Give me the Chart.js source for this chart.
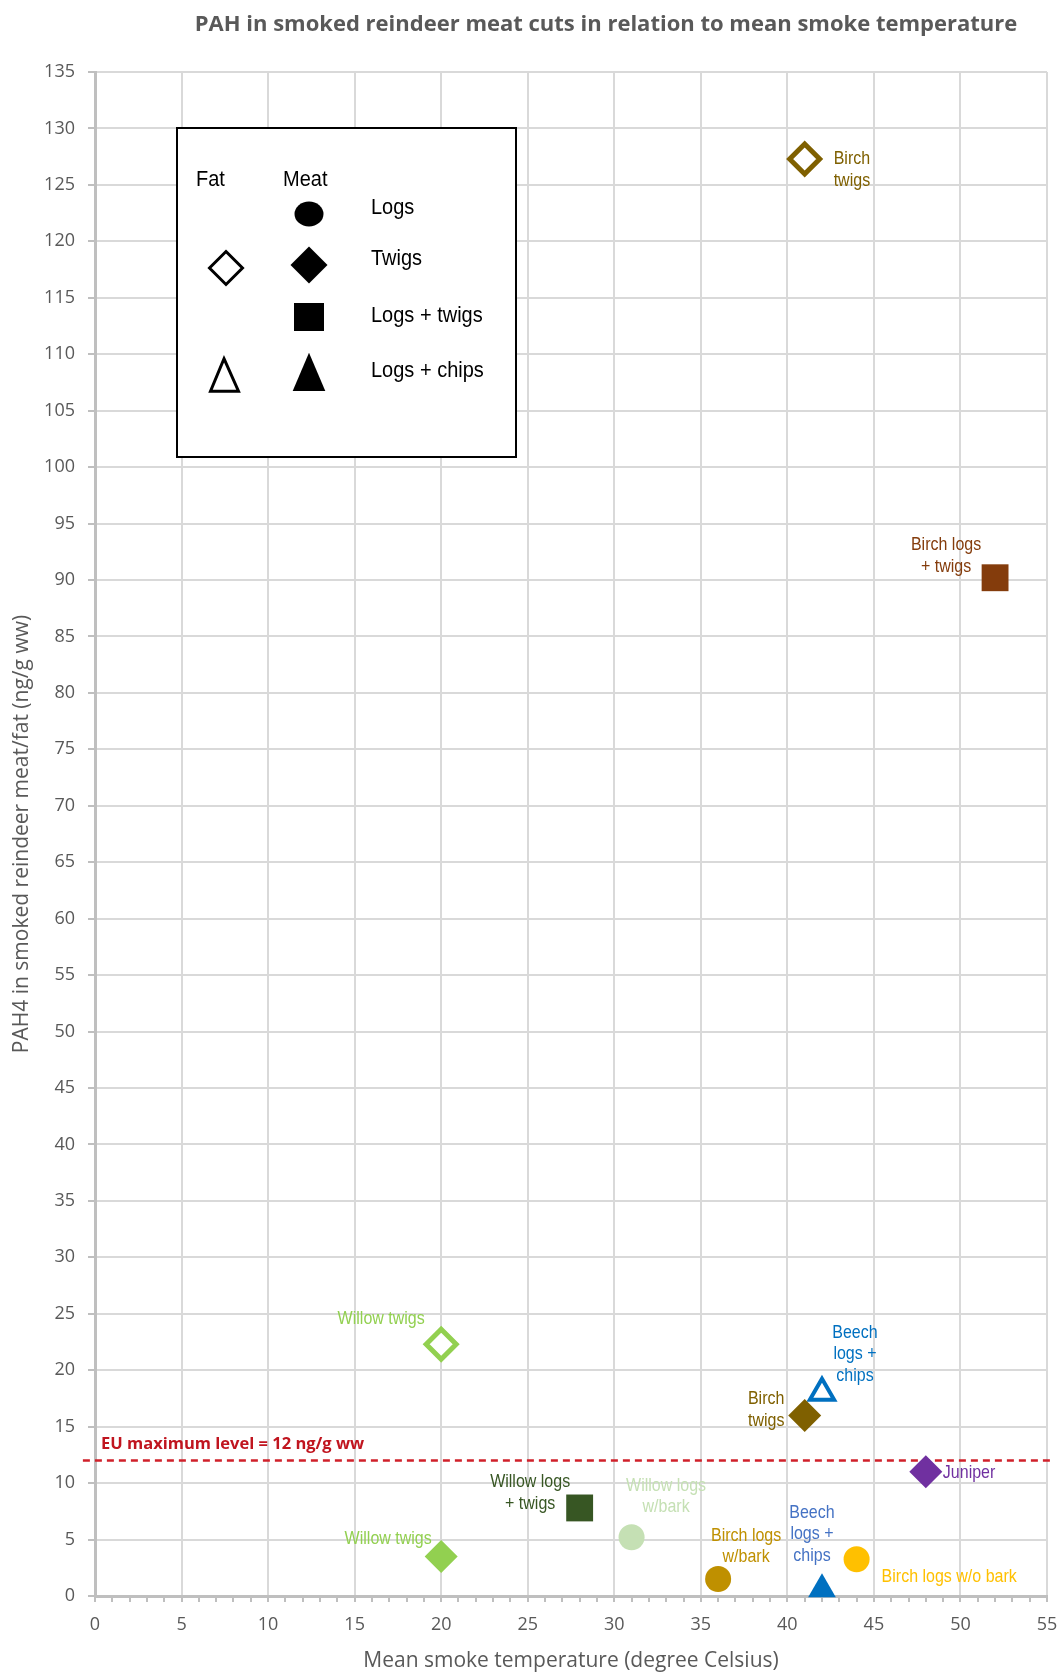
<!DOCTYPE html>
<html>
<head>
<meta charset="utf-8">
<title>PAH in smoked reindeer meat cuts</title>
<script src="https://cdn.jsdelivr.net/npm/chart.js@4.4.1/dist/chart.umd.min.js"></script>
<style>
  html, body { margin: 0; padding: 0; background: #fff; }
  #chart { display: block; }
</style>
</head>
<body>
<canvas id="chart" width="1061" height="1674"></canvas>
<script>
// =========================
// DATA
// =========================
const samples = ['Birch twigs', 'Birch logs + twigs', 'Willow twigs', 'Beech logs + chips', 'Birch twigs', 'Juniper',
    'Willow logs + twigs', 'Willow logs w/bark', 'Willow twigs', 'Birch logs w/bark', 'Beech logs + chips', 'Birch logs w/o bark'];
const tissue = ['Fat', 'Meat', 'Fat', 'Fat', 'Meat', 'Meat', 'Meat', 'Meat', 'Meat', 'Meat', 'Meat', 'Meat'];
const fuel = ['Twigs', 'Logs + twigs', 'Twigs', 'Logs + chips', 'Twigs', 'Twigs',
    'Logs + twigs', 'Logs', 'Twigs', 'Logs', 'Logs + chips', 'Logs'];
const smokeTemp = [41, 52, 20, 42, 41, 48, 28, 31, 20, 36, 42, 44];
const pah4 = [127.3, 90.2, 22.3, 18.0, 16.0, 11.0, 7.8, 5.2, 3.5, 1.5, 0.6, 3.25];
const pointLabels = [['Birch', 'twigs'], ['Birch logs', '+ twigs'], ['Willow twigs'], ['Beech', 'logs +', 'chips'],
    ['Birch', 'twigs'], ['Juniper'], ['Willow logs', '+ twigs'], ['Willow logs', 'w/bark'], ['Willow twigs'],
    ['Birch logs', 'w/bark'], ['Beech', 'logs +', 'chips'], ['Birch logs w/o bark']];

const euLimit = 12;
const euLabel = 'EU maximum level = 12 ng/g ww';
const xRange = [0, 55];
const yRange = [0, 135];

const legendTissue = ['Fat', 'Meat'];
const legendFuel = ['Logs', 'Twigs', 'Logs + twigs', 'Logs + chips'];
const legendHasFat = [false, true, false, true];

const chartTitle = 'PAH in smoked reindeer meat cuts in relation to mean smoke temperature';
const xTitle = 'Mean smoke temperature (degree Celsius)';
const yTitle = 'PAH4 in smoked reindeer meat/fat (ng/g ww)';

// =========================
// STYLE
// =========================
const woodColors = {
    'Birch twigs': '#7F6000',
    'Birch logs + twigs': '#843C0C',
    'Willow twigs': '#92D050',
    'Beech logs + chips': '#0070C0',
    'Juniper': '#7030A0',
    'Willow logs + twigs': '#375623',
    'Willow logs w/bark': '#C5E0B4',
    'Birch logs w/bark': '#BF9000',
    'Birch logs w/o bark': '#FFC000',
};

const shapeOf = { 'Logs': 'circle', 'Twigs': 'rectRot', 'Logs + twigs': 'rect', 'Logs + chips': 'triangle' };
const radiusOf = {
    Meat: { circle: 13, rectRot: 16.5, rect: 19, triangle: 16 },
    Fat: { rectRot: 15, triangle: 14 },
};

// label offsets from the marker centre (first line), px
const labelPlacement = [
    { dx: 29, dy: 0, align: 'left' },
    { dx: -49, dy: -32.5, align: 'center' },
    { dx: -60, dy: -25, align: 'center' },
    { dx: 33, dy: -60, align: 'center' },
    { dx: -38.5, dy: -16.5, align: 'center' },
    { dx: 17, dy: 1, align: 'left' },
    { dx: -49.5, dy: -25.5, align: 'center' },
    { dx: 34.5, dy: -51.5, align: 'center' },
    { dx: -53, dy: -17.5, align: 'center' },
    { dx: 28, dy: -43.3, align: 'center' },
    { dx: -10, dy: -76.5, align: 'center', color: '#4472C4' },
    { dx: 25, dy: 18, align: 'left' },
];

const gray = '#595959';
const gridGray = '#d9d9d9';
const axisGray = '#bfbfbf';
const euRed = '#D0202A';

const colorAt = (i) => woodColors[samples[i]];
const shapeAt = (i) => shapeOf[fuel[i]];

// =========================
// PLUGINS
// =========================
function stretchedText(ctx, text, x, y, sy) {
    ctx.save();
    ctx.translate(x, y);
    ctx.scale(1, sy);
    ctx.fillText(text, 0, 0);
    ctx.restore();
}

const pointLabelPlugin = {
    id: 'pointLabels',
    afterDatasetsDraw(chart) {
        const meta = chart.getDatasetMeta(0);
        const ctx = chart.ctx;
        ctx.save();
        ctx.font = '16px "Liberation Sans", Arial, sans-serif';
        ctx.textBaseline = 'middle';
        meta.data.forEach((pt, i) => {
            const place = labelPlacement[i];
            ctx.fillStyle = place.color || colorAt(i);
            ctx.textAlign = place.align;
            pointLabels[i].forEach((line, j) => {
                stretchedText(ctx, line, pt.x + place.dx, pt.y + place.dy + j * 21.7, 1.12);
            });
        });
        ctx.restore();
    },
};

const decorPlugin = {
    id: 'decor',
    afterDraw(chart) {
        const { ctx, chartArea: ca, scales } = chart;
        ctx.save();

        // title
        ctx.fillStyle = gray;
        ctx.font = 'bold 22px "Open Sans", sans-serif';
        ctx.textAlign = 'center';
        ctx.textBaseline = 'middle';
        ctx.fillText(chartTitle, 606, 25);

        // EU limit label
        ctx.fillStyle = '#C0151F';
        ctx.font = 'bold 16.5px "Open Sans", sans-serif';
        ctx.textAlign = 'left';
        ctx.fillText(euLabel, ca.left + 6, scales.y.getPixelForValue(euLimit) - 16);

        // legend box
        const L = ca.left + 82, T = ca.top + 56, W = 339, H = 329;
        ctx.fillStyle = '#fff';
        ctx.fillRect(L, T, W, H);
        ctx.lineWidth = 2;
        ctx.strokeStyle = '#000';
        ctx.strokeRect(L, T, W, H);

        ctx.fillStyle = '#000';
        ctx.font = '20px "Liberation Sans", Arial, sans-serif';
        ctx.textAlign = 'left';
        stretchedText(ctx, legendTissue[0], L + 19, T + 51.5, 1.12);
        stretchedText(ctx, legendTissue[1], L + 106, T + 51.5, 1.12);

        const fatX = L + 49, meatX = L + 132, textX = L + 194;
        const rowText = [T + 79.5, T + 131, T + 188, T + 243];
        const rowMeat = [T + 86, T + 137, T + 189, T + 243.8];
        const rowFat = [0, T + 140, 0, T + 246.7];

        legendFuel.forEach((name, r) => {
            stretchedText(ctx, name, textX, rowText[r], 1.12);
            const cy = rowMeat[r];
            ctx.beginPath();
            if (name === 'Logs') {
                ctx.ellipse(meatX, cy, 14.5, 12.5, 0, 0, Math.PI * 2);
            } else if (name === 'Twigs') {
                ctx.moveTo(meatX, cy - 18.5);
                ctx.lineTo(meatX + 18.5, cy);
                ctx.lineTo(meatX, cy + 18.5);
                ctx.lineTo(meatX - 18.5, cy);
            } else if (name === 'Logs + twigs') {
                ctx.rect(meatX - 15, cy - 14, 30, 28);
            } else {
                ctx.moveTo(meatX, cy - 19);
                ctx.lineTo(meatX + 16.3, cy + 19.3);
                ctx.lineTo(meatX - 16.3, cy + 19.3);
            }
            ctx.closePath();
            ctx.fill();

            if (legendHasFat[r]) {
                const fy = rowFat[r];
                ctx.beginPath();
                ctx.lineWidth = 3;
                if (name === 'Twigs') {
                    ctx.moveTo(fatX, fy - 16.5);
                    ctx.lineTo(fatX + 16.5, fy);
                    ctx.lineTo(fatX, fy + 16.5);
                    ctx.lineTo(fatX - 16.5, fy);
                } else {
                    ctx.moveTo(fatX - 2, fy - 16);
                    ctx.lineTo(fatX + 12.5, fy + 16.5);
                    ctx.lineTo(fatX - 15.5, fy + 16.5);
                }
                ctx.closePath();
                ctx.stroke();
            }
        });

        ctx.restore();
    },
};

// =========================
// CHART
// =========================
const pointData = smokeTemp.map((x, i) => ({ x, y: pah4[i] }));

new Chart(document.getElementById('chart'), {
    type: 'scatter',
    data: {
        datasets: [
            {
                label: 'PAH4',
                data: pointData,
                order: 0,
                clip: false,
                pointStyle: (c) => shapeAt(c.dataIndex),
                pointRadius: (c) => radiusOf[tissue[c.dataIndex]][shapeAt(c.dataIndex)],
                pointHoverRadius: (c) => radiusOf[tissue[c.dataIndex]][shapeAt(c.dataIndex)],
                pointBackgroundColor: (c) => (tissue[c.dataIndex] === 'Fat' ? '#ffffff' : colorAt(c.dataIndex)),
                pointBorderColor: (c) => colorAt(c.dataIndex),
                pointBorderWidth: (c) => {
                    if (tissue[c.dataIndex] !== 'Fat') return 0;
                    return shapeAt(c.dataIndex) === 'triangle' ? 4 : 5;
                },
            },
            {
                type: 'line',
                label: euLabel,
                data: [{ x: xRange[0] - 0.7, y: euLimit }, { x: xRange[1] + 0.25, y: euLimit }],
                order: 1,
                clip: false,
                showLine: true,
                borderColor: euRed,
                borderWidth: 2.5,
                borderDash: [7, 5],
                pointRadius: 0,
                fill: false,
            },
        ],
    },
    options: {
        responsive: false,
        devicePixelRatio: 1,
        animation: false,
        layout: {
            autoPadding: false, // big markers would otherwise widen the right gutter
            padding: { top: 72, right: 14, bottom: 0, left: 0 },
        },
        plugins: {
            legend: { display: false },
            tooltip: { enabled: false },
            title: { display: false },
        },
        scales: {
            x: {
                type: 'linear',
                min: xRange[0],
                max: xRange[1],
                afterFit: (scale) => {
                    scale.height = 78;
                    scale.paddingLeft = 0;
                    scale.paddingRight = 0;
                },
                ticks: {
                    stepSize: 1,
                    autoSkip: false,
                    maxRotation: 0,
                    padding: 4,
                    color: gray,
                    font: { family: '"Open Sans", sans-serif', size: 18, lineHeight: 2.15 },
                    callback: (v) => (v % 5 === 0 ? String(v) : ''),
                },
                grid: {
                    color: (c) => (c.tick && c.tick.value % 5 === 0 ? gridGray : 'rgba(0,0,0,0)'),
                    lineWidth: 2,
                    tickLength: 6,
                    tickColor: axisGray,
                    tickWidth: 2,
                },
                border: { color: axisGray, width: 3 },
                title: {
                    display: true,
                    text: xTitle,
                    color: gray,
                    font: { family: '"Open Sans", sans-serif', size: 21 },
                    padding: { top: 0, bottom: 0 },
                },
            },
            y: {
                type: 'linear',
                min: yRange[0],
                max: yRange[1],
                afterFit: (scale) => { scale.width = 95; },
                ticks: {
                    stepSize: 5,
                    padding: 13,
                    color: gray,
                    font: { family: '"Open Sans", sans-serif', size: 18 },
                },
                grid: {
                    color: gridGray,
                    lineWidth: 2,
                    tickLength: 7,
                    tickColor: axisGray,
                    tickWidth: 2,
                },
                border: { color: axisGray, width: 3 },
                title: {
                    display: true,
                    text: yTitle,
                    color: gray,
                    font: { family: '"Open Sans", sans-serif', size: 21 },
                    padding: { top: 9, bottom: 0 },
                },
            },
        },
    },
    plugins: [decorPlugin, pointLabelPlugin],
});
</script>
</body>
</html>
